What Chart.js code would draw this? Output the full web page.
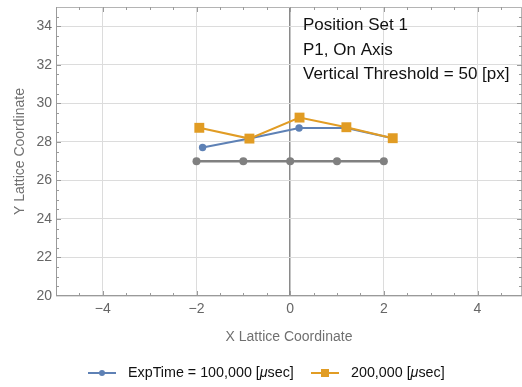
<!DOCTYPE html>
<html>
<head>
<meta charset="utf-8">
<script src="https://cdn.jsdelivr.net/npm/chart.js@4.4.0/dist/chart.umd.min.js"></script>
<style>
  html, body { margin: 0; padding: 0; background: #fff; overflow: hidden; }
  #wrap { width: 522px; height: 387px; position: relative; }
  canvas { display: block; }
</style>
</head>
<body>
<div id="wrap"><canvas id="grafico"></canvas></div>
<script>
// ====== DADOS ======
const xAzul = [-1.87, -0.87, 0.19, 1.2, 2.19];
const yAzul = [27.71, 28.17, 28.72, 28.72, 28.19];
const xLaranja = [-1.94, -0.87, 0.2, 1.2, 2.19];
const yLaranja = [28.73, 28.17, 29.26, 28.76, 28.19];
const xCinza = [-2, -1, 0, 1, 2];
const yCinza = [27, 27, 27, 27, 27];

const rotuloAzul = 'ExpTime = 100,000 [μsec]';
const rotuloLaranja = '200,000 [μsec]';
const textoAnotacao = ['Position Set 1', 'P1, On Axis', 'Vertical Threshold = 50 [px]'];

const xTicks = [-4, -2, 0, 2, 4];
const yTicks = [20, 22, 24, 26, 28, 30, 32, 34];

const FONTE = '"Liberation Sans", Arial, sans-serif';
const AZUL = '#5e81b5';
const LARANJA = '#e19c24';
const CINZA = '#808080';

const pontos = (xs, ys) => xs.map((x, i) => ({ x, y: ys[i] }));
const fmt = v => (v < 0 ? '\u2212' + Math.abs(v) : String(v));
const semPadding = s => { s.paddingTop = 0; s.paddingBottom = 0; s.paddingLeft = 0; s.paddingRight = 0; };

// ====== PLUGIN: moldura, ticks, anotacao, legenda ======
const extras = {
  id: 'extras',
  beforeDatasetsDraw(chart) {
    const { ctx, chartArea: a, scales } = chart;
    const sx = scales.x, sy = scales.y;
    ctx.save();
    // moldura
    ctx.lineWidth = 1;
    ctx.strokeStyle = '#b4b4b4';
    ctx.beginPath();
    ctx.moveTo(a.left, a.top + 0.5); ctx.lineTo(a.right, a.top + 0.5);
    ctx.moveTo(a.right - 0.5, a.top); ctx.lineTo(a.right - 0.5, a.bottom);
    ctx.stroke();
    ctx.strokeStyle = '#9a9a9a';
    ctx.beginPath();
    ctx.moveTo(a.left + 0.5, a.top); ctx.lineTo(a.left + 0.5, a.bottom);
    ctx.moveTo(a.left, a.bottom - 0.5); ctx.lineTo(a.right, a.bottom - 0.5);
    ctx.stroke();

    // ticks menores e maiores para dentro
    ctx.beginPath();
    for (let v = -5; v <= 5; v += 0.5) {
      const px = Math.round(sx.getPixelForValue(v)) + 0.5;
      if (px < a.left + 1 || px > a.right - 1) continue;
      const len = Number.isInteger(v / 2) ? 5 : 3;
      ctx.moveTo(px, a.bottom); ctx.lineTo(px, a.bottom - len);
      ctx.moveTo(px, a.top); ctx.lineTo(px, a.top + len);
    }
    for (let v = 20; v <= 35; v += 0.5) {
      const py = Math.round(sy.getPixelForValue(v)) + 0.5;
      if (py < a.top + 1 || py > a.bottom - 1) continue;
      const len = Number.isInteger(v / 2) ? 5 : 3;
      ctx.moveTo(a.left, py); ctx.lineTo(a.left + len, py);
      ctx.moveTo(a.right, py); ctx.lineTo(a.right - len, py);
    }
    ctx.stroke();
    ctx.restore();
  },
  afterDraw(chart) {
    const { ctx } = chart;
    ctx.save();
    // anotacao
    ctx.fillStyle = '#111';
    ctx.font = '17px ' + FONTE;
    ctx.textBaseline = 'middle';
    ctx.textAlign = 'left';
    textoAnotacao.forEach((t, i) => ctx.fillText(t, 303, 25.5 + i * 24.5));

    // legenda
    const entradas = [
      { ds: chart.data.datasets[0], x: 88 },
      { ds: chart.data.datasets[1], x: 311 },
    ];
    const y = 373;
    entradas.forEach(({ ds, x }) => {
      ctx.strokeStyle = ds.borderColor;
      ctx.lineWidth = 2;
      ctx.beginPath();
      ctx.moveTo(x, y); ctx.lineTo(x + 28, y);
      ctx.stroke();
      ctx.fillStyle = ds.backgroundColor;
      if (ds.pointStyle === 'rect') {
        ctx.fillRect(x + 14 - 4, y - 4, 8, 8);
      } else {
        ctx.beginPath();
        ctx.arc(x + 14, y, 3, 0, Math.PI * 2);
        ctx.fill();
      }
      // texto com mu em italico
      const [antes, depois] = ds.label.split('μ');
      let tx = x + 40;
      ctx.fillStyle = '#111';
      ctx.font = '14.3px ' + FONTE;
      ctx.fillText(antes, tx, y);
      tx += ctx.measureText(antes).width;
      ctx.font = 'italic 14.3px ' + FONTE;
      ctx.fillText('μ', tx, y);
      tx += ctx.measureText('μ').width;
      ctx.font = '14.3px ' + FONTE;
      ctx.fillText(depois, tx, y);
    });
    ctx.restore();
  },
};

// ====== GRAFICO ======
const ctx = document.getElementById('grafico').getContext('2d');
const chart = new Chart(ctx, {
  type: 'line',
  data: {
    datasets: [
      {
        label: rotuloAzul,
        data: pontos(xAzul, yAzul),
        borderColor: AZUL,
        backgroundColor: AZUL,
        borderWidth: 2,
        pointRadius: 3.7,
        pointStyle: 'circle',
        pointBorderWidth: 0,
        order: 2,
      },
      {
        label: rotuloLaranja,
        data: pontos(xLaranja, yLaranja),
        borderColor: LARANJA,
        backgroundColor: LARANJA,
        borderWidth: 2,
        pointRadius: 7,
        pointStyle: 'rect',
        pointBorderWidth: 0,
        order: 1,
      },
      {
        label: 'referencia',
        data: pontos(xCinza, yCinza),
        borderColor: CINZA,
        backgroundColor: CINZA,
        borderWidth: 2.5,
        pointRadius: 4,
        pointStyle: 'circle',
        pointBorderWidth: 0,
        order: 3,
      },
    ],
  },
  options: {
    responsive: true,
    maintainAspectRatio: false,
    animation: false,
    layout: { autoPadding: false, padding: { top: 7, right: 0, bottom: 0, left: 0 } },
    plugins: {
      legend: { display: false },
      tooltip: { enabled: false },
    },
    scales: {
      x: {
        type: 'linear',
        min: -5,
        max: 4.95,
        afterBuildTicks: s => { s.ticks = xTicks.map(v => ({ value: v })); },
        afterFit: s => { s.height = 91; semPadding(s); },
        border: { display: false },
        grid: {
          drawTicks: false,
          color: c => (c.tick && c.tick.value === 0 ? '#8a8a8a' : '#dcdcdc'),
          lineWidth: c => (c.tick && c.tick.value === 0 ? 1.5 : 1),
        },
        ticks: {
          padding: 5,
          color: '#666',
          font: { size: 14, family: FONTE },
          callback: v => fmt(v),
        },
        title: {
          display: true,
          text: 'X Lattice Coordinate',
          color: '#707070',
          font: { size: 14, family: FONTE },
          padding: { top: 0, bottom: 41.5 },
        },
      },
      y: {
        type: 'linear',
        min: 20,
        max: 35,
        afterBuildTicks: s => { s.ticks = yTicks.map(v => ({ value: v })); },
        afterFit: s => { s.width = 56; semPadding(s); },
        border: { display: false },
        grid: {
          drawTicks: false,
          color: '#dcdcdc',
          lineWidth: 1,
        },
        ticks: {
          padding: 4,
          color: '#666',
          font: { size: 14, family: FONTE },
          callback: v => fmt(v),
        },
        title: {
          display: true,
          text: 'Y Lattice Coordinate',
          color: '#707070',
          font: { size: 14, family: FONTE },
          padding: { top: 12, bottom: 12 },
        },
      },
    },
  },
  plugins: [extras],
});
</script>
</body>
</html>
